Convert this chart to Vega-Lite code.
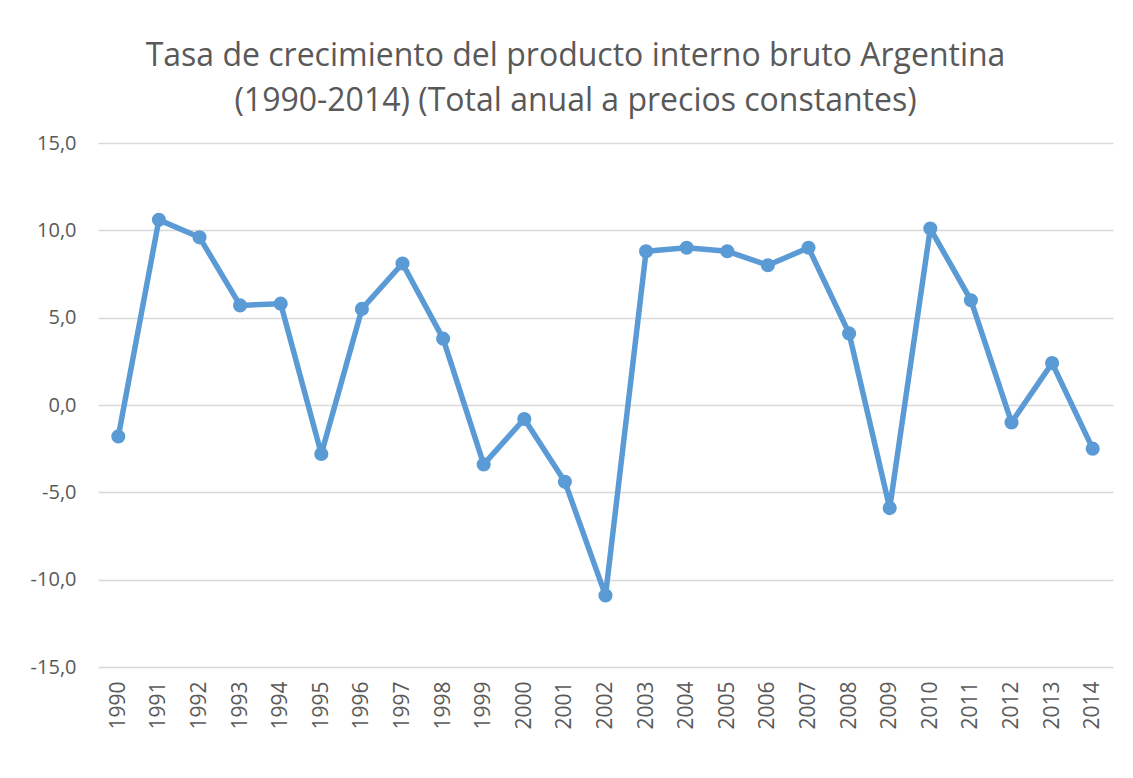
{
  "$schema": "https://vega.github.io/schema/vega-lite/v6.json",
  "width": 1015,
  "height": 524,
  "autosize": {"type": "none"},
  "padding": {"left": 98, "top": 143, "right": 20, "bottom": 111},
  "background": "white",
  "config": {
    "view": {"stroke": null},
    "locale": {"number": {"decimal": ",", "thousands": ".", "grouping": [3], "currency": ["", " €"], "minus": "-"}}
  },
  "title": {
    "text": ["Tasa de crecimiento del producto interno bruto Argentina", "(1990-2014) (Total anual a precios constantes)"],
    "font": "Open Sans",
    "fontSize": 32,
    "fontWeight": "normal",
    "color": "#595959",
    "anchor": "middle",
    "dx": -30,
    "offset": 15,
    "lineHeight": 45
  },
  "data": {
    "values": [
      {"year": "1990", "rate": -1.8},
      {"year": "1991", "rate": 10.6},
      {"year": "1992", "rate": 9.6},
      {"year": "1993", "rate": 5.7},
      {"year": "1994", "rate": 5.8},
      {"year": "1995", "rate": -2.8},
      {"year": "1996", "rate": 5.5},
      {"year": "1997", "rate": 8.1},
      {"year": "1998", "rate": 3.8},
      {"year": "1999", "rate": -3.4},
      {"year": "2000", "rate": -0.8},
      {"year": "2001", "rate": -4.4},
      {"year": "2002", "rate": -10.9},
      {"year": "2003", "rate": 8.8},
      {"year": "2004", "rate": 9.0},
      {"year": "2005", "rate": 8.8},
      {"year": "2006", "rate": 8.0},
      {"year": "2007", "rate": 9.0},
      {"year": "2008", "rate": 4.1},
      {"year": "2009", "rate": -5.9},
      {"year": "2010", "rate": 10.1},
      {"year": "2011", "rate": 6.0},
      {"year": "2012", "rate": -1.0},
      {"year": "2013", "rate": 2.4},
      {"year": "2014", "rate": -2.5}
    ]
  },
  "mark": {"type": "line", "color": "#5B9BD5", "strokeWidth": 5.5, "strokeJoin": "round", "point": {"filled": true, "size": 200, "color": "#5B9BD5", "opacity": 1}},
  "encoding": {
    "x": {
      "field": "year",
      "type": "ordinal",
      "scale": {"type": "point", "padding": 0.5},
      "axis": {
        "title": null,
        "labelAngle": -90,
        "labelFont": "Open Sans",
        "labelFontSize": 21,
        "labelColor": "#595959",
        "labelPadding": 14,
        "ticks": false,
        "domain": false,
        "grid": false
      }
    },
    "y": {
      "field": "rate",
      "type": "quantitative",
      "scale": {"domain": [-15, 15], "nice": false, "zero": false},
      "axis": {
        "title": null,
        "values": [-15, -10, -5, 0, 5, 10, 15],
        "format": ".1f",
        "labelFont": "Open Sans",
        "labelFontSize": 20,
        "labelColor": "#595959",
        "labelPadding": 22,
        "ticks": false,
        "domain": false,
        "grid": true,
        "gridColor": "#D9D9D9",
        "gridWidth": 1.3
      }
    }
  }
}
